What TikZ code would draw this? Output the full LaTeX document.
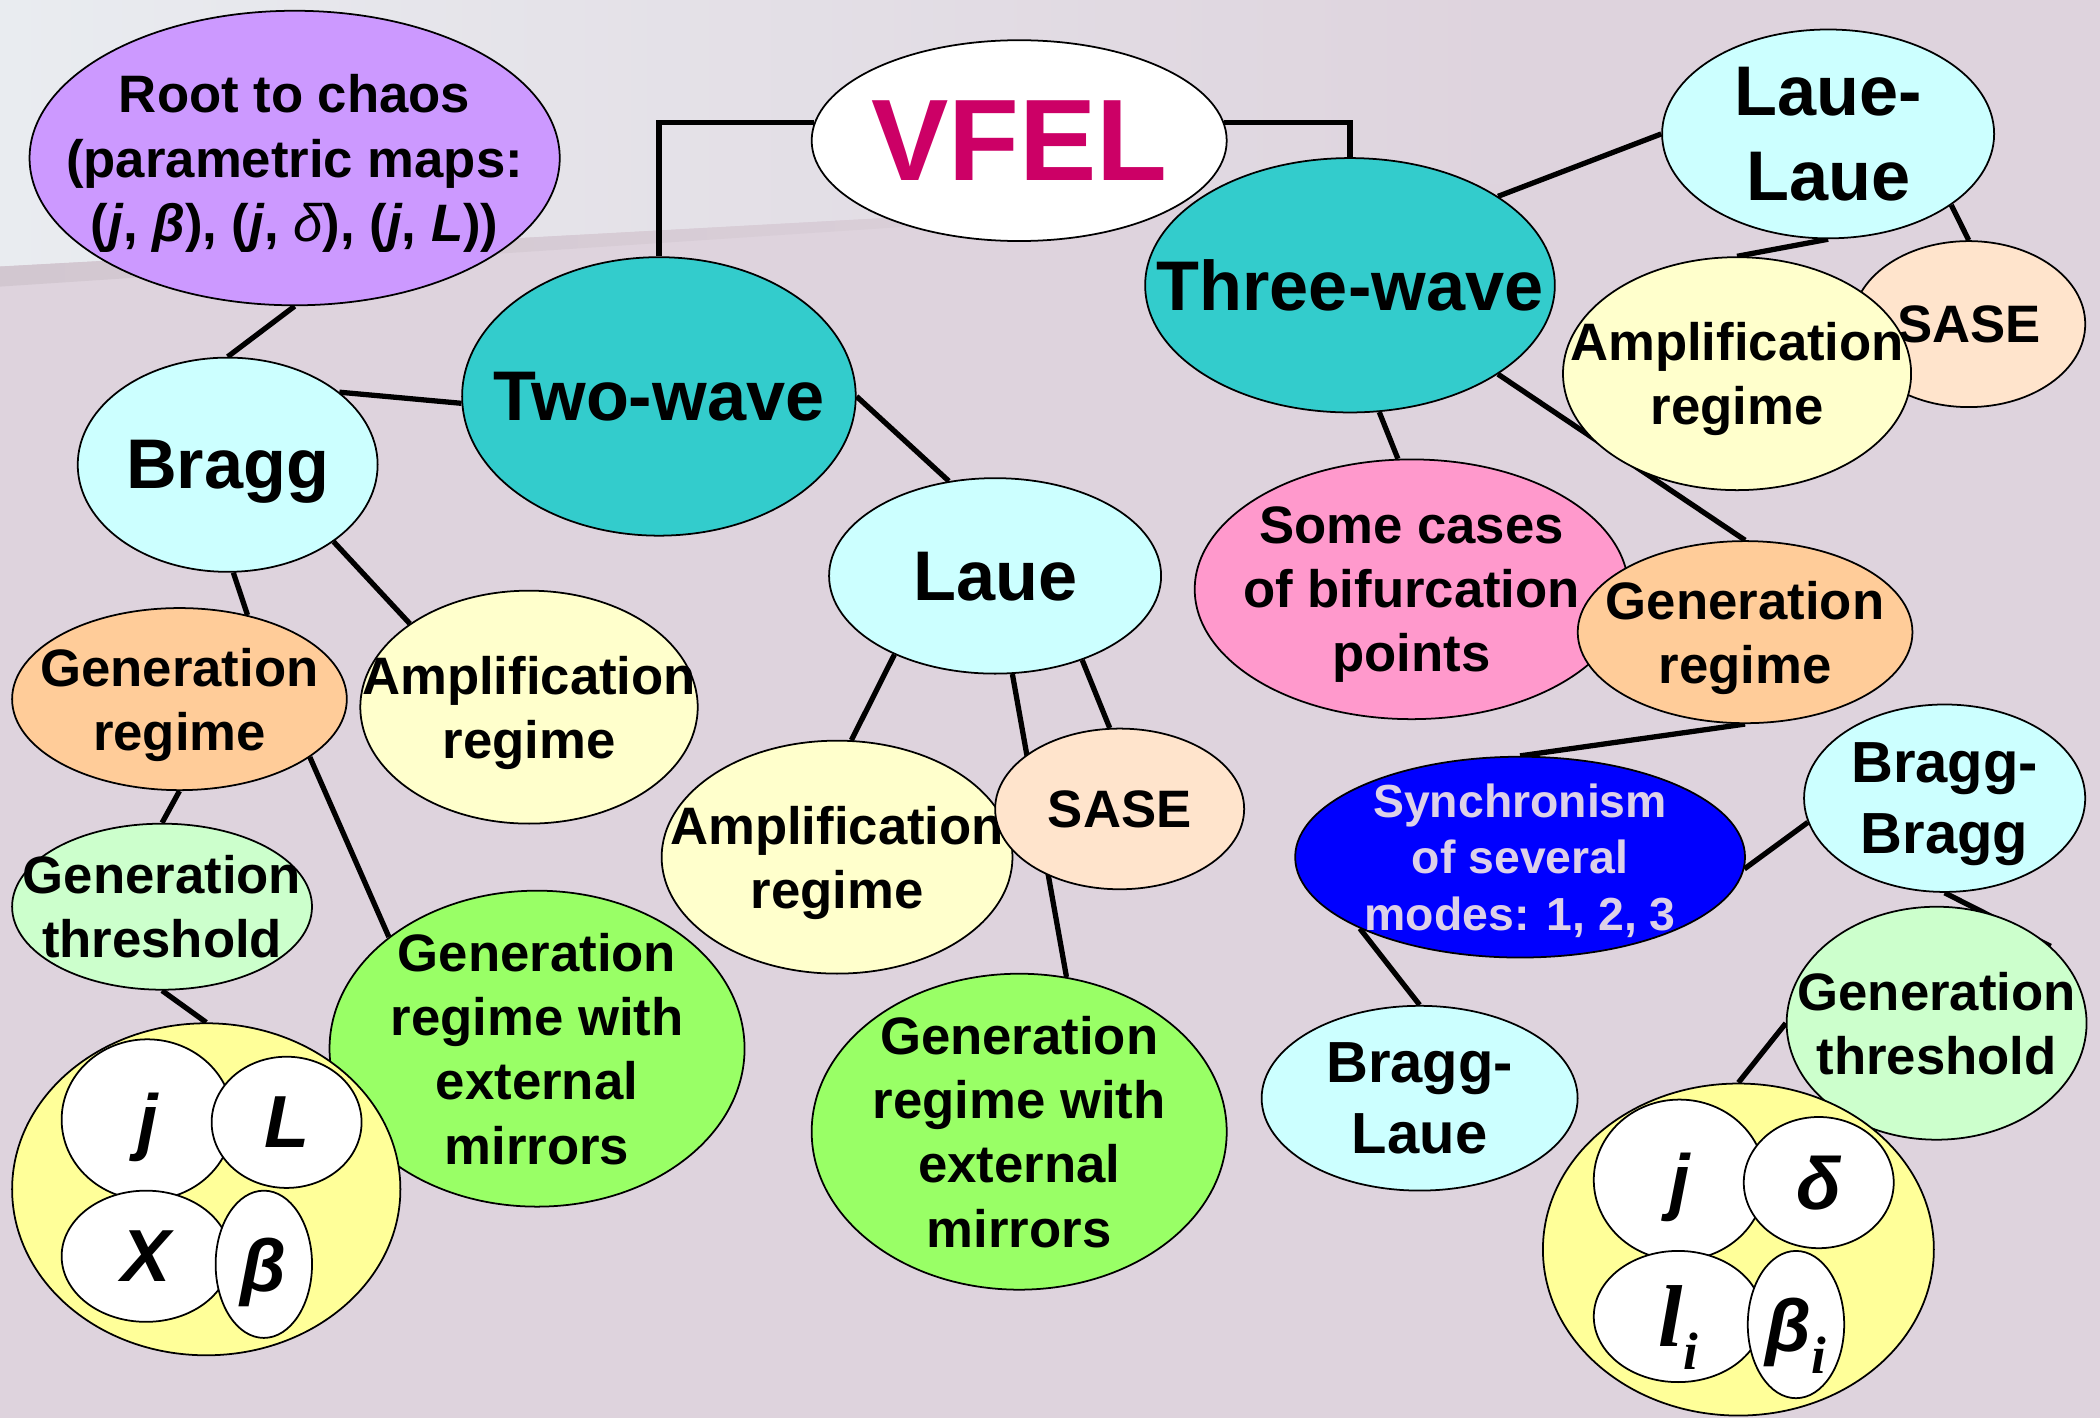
\documentclass[tikz,border=0pt]{standalone}
\usepackage{fontspec}
\setmainfont{Liberation Sans}
\newfontfamily\serifit{Liberation Serif}
\usetikzlibrary{shapes.geometric}

\definecolor{mauve}{RGB}{222,211,221}
\definecolor{haze}{RGB}{233,236,240}
\definecolor{shadeband}{RGB}{210,199,208}
\definecolor{tealc}{HTML}{33CCCC}
\definecolor{icec}{HTML}{CCFFFF}
\definecolor{lilac}{HTML}{CC99FF}
\definecolor{apricot}{HTML}{FFCC99}
\definecolor{cream}{HTML}{FFFFCC}
\definecolor{mint}{HTML}{CCFFCC}
\definecolor{grass}{HTML}{99FF66}
\definecolor{peach}{HTML}{FFE4CC}
\definecolor{rosec}{HTML}{FF99CC}
\definecolor{deepblue}{HTML}{0000FF}
\definecolor{butter}{HTML}{FFFF99}
\definecolor{vfelred}{HTML}{CC0066}
\definecolor{lavtext}{HTML}{DCD0E8}

\newcommand{\fvfel}{\fontsize{33}{38}\selectfont\bfseries}
\newcommand{\fbig}{\fontsize{20}{24}\selectfont\bfseries}
\newcommand{\fbrg}{\fontsize{16.5}{20.2}\selectfont\bfseries}
\newcommand{\fmid}{\fontsize{15}{18.3}\selectfont\bfseries}
\newcommand{\flow}{\fontsize{13.2}{16}\selectfont\bfseries}
\newcommand{\fsym}{\fontsize{21}{25}\selectfont\bfseries\itshape}
\newcommand{\subi}{\raisebox{-0.3em}{\fontsize{15}{15}\selectfont\serifit\bfseries\itshape i}}

\pgfdeclarelayer{back}
\pgfdeclarelayer{wires}
\pgfsetlayers{back,wires,main}

\begin{document}
\begin{tikzpicture}[
    x=0.013393cm, y=-0.013393cm,
    bubble/.style={ellipse, draw=black, line width=0.5pt, inner sep=0pt},
    dims/.style 2 args={minimum width=#1*0.7621pt, minimum height=#2*0.7621pt},
    words/.style={align=center, inner sep=0pt, text depth=0pt},
    say/.style 2 args={label={[words,font=#1]center:{#2}}},
    wire/.style={line width=1.5pt, black}
]
\useasboundingbox (0,0) rectangle (1568,1059);

% background
\begin{pgfonlayer}{back}
\fill[mauve] (0,0) rectangle (1568,1059);
\shade[left color=haze, right color=mauve] (0,0) -- (1150,0) -- (1150,136) -- (0,199) -- cycle;
\shade[left color=shadeband, right color=mauve] (0,199) -- (1150,136) -- (1150,138) -- (0,214) -- cycle;
\end{pgfonlayer}

% top and two-wave branch
\node [bubble, fill=lilac, dims={198}{110}, say={\fmid}{Root to chaos\\(parametric maps:\\(\textit{j}, \textit{β}), (\textit{j}, {\mdseries\itshape δ}), (\textit{j}, \textit{L}))}] (root) at (220,118) {};
\node [bubble, fill=white, dims={155}{75}, say={\fvfel\color{vfelred}}{VFEL}] (vfel) at (761,105) {};
\node [bubble, fill=tealc, dims={147}{104}, say={\fbig}{Two-wave}] (two) at (492,296) {};
\node [bubble, fill=tealc, dims={153}{95}, say={\fbig}{Three-wave}] (three) at (1008,213) {};
\node [bubble, fill=icec, dims={112}{80}, say={\fbig}{Bragg}] (bragg) at (170,347) {};
\node [bubble, fill=icec, dims={124}{73}, say={\fbig}{Laue}] (laue) at (743,430) {};

% Bragg side
\node [bubble, fill=apricot, dims={125}{68}, say={\fmid}{Generation\\regime}] (genL) at (134,522) {};
\node [bubble, fill=cream, dims={126}{87}, say={\fmid}{Amplification\\regime}] (ampL) at (395,528) {};
\node [bubble, fill=mint, dims={112}{62}, say={\fmid}{Generation\\threshold}] (thrL) at (121,677) {};
\node [bubble, fill=grass, dims={155}{118}, say={\fmid}{Generation\\regime with\\external\\mirrors}] (mirL) at (401,783) {};
\node [bubble, fill=butter, dims={145}{124}] (grpL) at (154,888) {};
\node [bubble, fill=white, dims={64}{60}, say={\fsym}{j}] (jL) at (110,836) {};
\node [bubble, fill=white, dims={56}{49}, say={\fsym}{L}] (lenL) at (214,838) {};
\node [bubble, fill=white, dims={63}{49}, say={\fsym}{X}] (xL) at (109,938) {};
\node [bubble, fill=white, dims={36}{55}, say={\fsym}{β}] (betaL) at (197,944) {};

% Laue side
\node [bubble, fill=cream, dims={131}{87}, say={\fmid}{Amplification\\regime}] (ampM) at (625,640) {};
\node [bubble, fill=peach, dims={93}{60}, say={\fmid}{SASE}] (saseM) at (836,604) {};
\node [bubble, fill=grass, dims={155}{118}, say={\fmid}{Generation\\regime with\\external\\mirrors}] (mirM) at (761,845) {};

% three-wave branch
\node [bubble, fill=icec, dims={124}{78}, say={\fbig}{Laue-\\Laue}] (laula) at (1365,100) {};
\node [bubble, fill=peach, dims={87}{62}, say={\fmid}{SASE}] (saseR) at (1470,242) {};
\node [bubble, fill=cream, dims={130}{87}, say={\fmid}{Amplification\\regime}] (ampR) at (1297,279) {};
\node [bubble, fill=rosec, dims={162}{97}, say={\fmid}{Some cases\\of bifurcation\\points}] (bif) at (1054,440) {};
\node [bubble, fill=apricot, dims={125}{68}, say={\fmid}{Generation\\regime}] (genR) at (1303,472) {};
\node [bubble, fill=deepblue, dims={168}{75}, say={\flow\color{lavtext}}{Synchronism\\of several\\modes: 1, 2, 3}] (sync) at (1135,640) {};
\node [bubble, fill=icec, dims={105}{70}, say={\fbrg}{Bragg-\\Bragg}] (brbr) at (1452,596) {};
\node [bubble, fill=icec, dims={118}{69}, say={\fbrg}{Bragg-\\Laue}] (brla) at (1060,820) {};
\node [bubble, fill=mint, dims={112}{87}, say={\fmid}{Generation\\threshold}] (thrR) at (1446,764) {};
\node [bubble, fill=butter, dims={146}{124}] (grpR) at (1298,933) {};
\node [bubble, fill=white, dims={64}{60}, say={\fsym}{j}] (jR) at (1254,881) {};
\node [bubble, fill=white, dims={56}{49}, say={\fsym}{δ}] (deltaR) at (1358,883) {};
\node [bubble, fill=white, dims={63}{49}, say={\fsym}{{\fontsize{25}{28}\selectfont\serifit\bfseries\itshape l}\subi}] (lR) at (1253,983) {};
\node [bubble, fill=white, dims={36}{55}, say={\fsym}{β\subi}] (betaR) at (1341,989) {};

% connectors
\begin{pgfonlayer}{wires}
\draw [wire] (vfel.175) -| (two.north);
\draw [wire] (vfel.5) -| (three.north);
\draw [wire] (root.south) -- (bragg.north);
\draw [wire] (bragg.33) -- (two.182);
\draw [wire] (bragg.-87) -- (genL.51);
\draw [wire] (bragg.-36) -- (ampL.145);
\draw [wire] (genL.south) -- (thrL.north);
\draw [wire] (genL.-24) -- (mirL.143);
\draw [wire] (thrL.south) -- (grpL.north);
\draw [wire] (two.east) -- (laue.116);
\draw [wire] (laue.218) -- (ampM.83);
\draw [wire] (laue.-80) -- (mirM.73);
\draw [wire] (laue.-44) -- (saseM.97);
\draw [wire] (three.31) -- (laula.west);
\draw [wire] (laula.south) -- (ampR.north);
\draw [wire] (laula.-30) -- (saseR.north);
\draw [wire] (three.-77) -- (bif.96);
\draw [wire] (three.-31) -- (genR.north);
\draw [wire] (genR.south) -- (sync.north);
\draw [wire] (sync.-3) -- (brbr.190);
\draw [wire] (sync.204) -- (brla.north);
\draw [wire] (brbr.south) -- (thrR.34);
\draw [wire] (thrR.west) -- (grpR.north);
\end{pgfonlayer}

\end{tikzpicture}
\end{document}
